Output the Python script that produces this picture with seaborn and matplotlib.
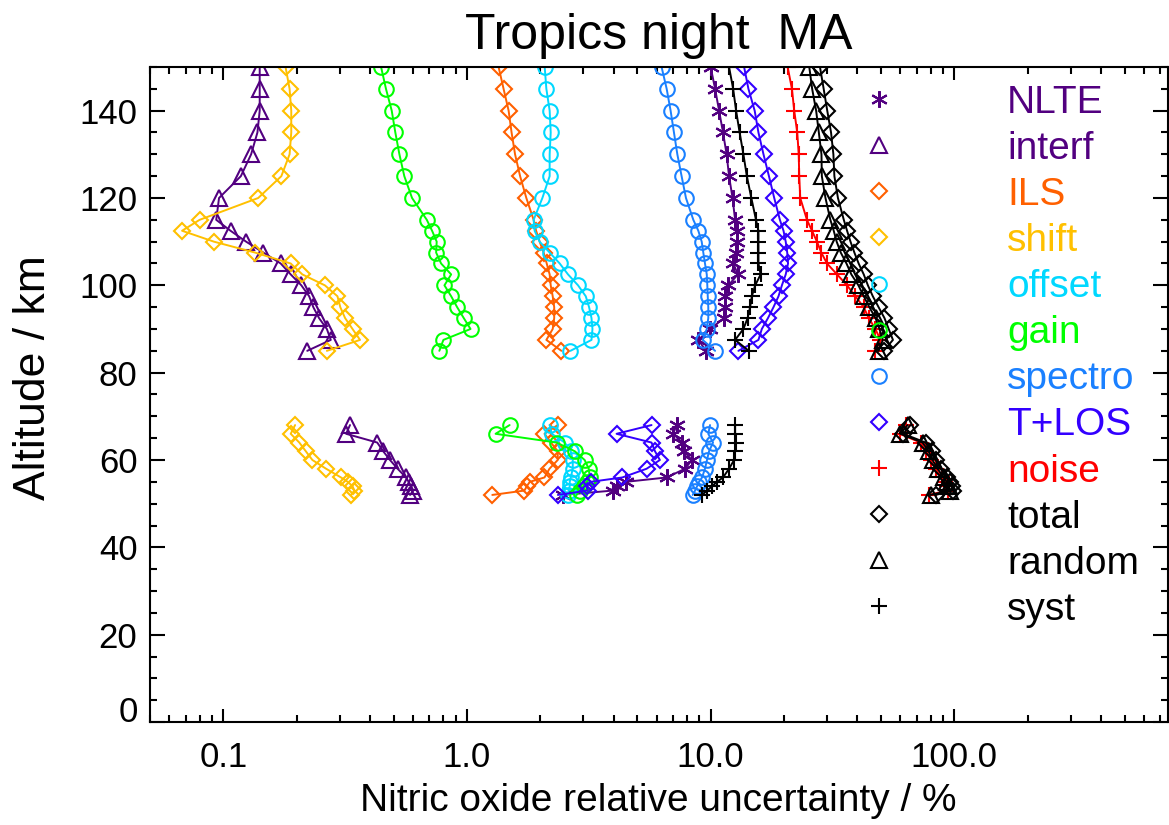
import numpy as np
import pandas as pd
import matplotlib
matplotlib.use("Agg")
import matplotlib.pyplot as plt
from matplotlib.lines import Line2D
from matplotlib.ticker import FixedLocator, FixedFormatter, MultipleLocator, LogLocator, NullFormatter
import seaborn as sns

# Altitude grids (km) of the two retrieved height ranges
alt_upper = [150, 145, 140, 135, 130, 125, 120, 115, 112.5, 110, 107.5, 105,
             102.5, 100, 97.5, 95, 92.5, 90, 87.5, 85]
alt_lower = [68, 66, 64, 62, 60, 58, 56, 55, 54, 53, 52]

# Relative uncertainty (%) per error source
nlte_upper = [10.0, 10.43, 10.83, 11.24, 11.63, 11.90, 12.30, 12.60, 12.88, 12.80,
              12.72, 12.40, 12.93, 11.83, 11.46, 11.46, 11.36, 9.94, 8.90, 9.58]
nlte_lower = [7.25, 7.02, 7.63, 7.77, 8.38, 7.85, 6.60, 4.49, 4.12, 3.97, 2.47]

interf_upper = [0.141, 0.141, 0.141, 0.138, 0.130, 0.118, 0.096, 0.0935, 0.107, 0.124,
                0.146, 0.172, 0.189, 0.209, 0.225, 0.234, 0.247, 0.266, 0.276, 0.221]
interf_lower = [0.331, 0.319, 0.428, 0.453, 0.483, 0.519, 0.562, 0.576, 0.590, 0.602, 0.584]

ils_upper = [1.348, 1.413, 1.482, 1.524, 1.575, 1.652, 1.752, 1.877, 1.922, 1.987,
             2.064, 2.124, 2.184, 2.206, 2.248, 2.280, 2.280, 2.248, 2.117, 2.441]
ils_lower = [2.357, 2.08, 2.21, 2.357, 2.357, 2.18, 2.08, 1.81, 1.76, 1.72, 1.27]

shift_upper = [0.180, 0.187, 0.190, 0.190, 0.187, 0.173, 0.139, 0.0799, 0.0677, 0.0915,
               0.135, 0.189, 0.211, 0.261, 0.294, 0.302, 0.316, 0.339, 0.364, 0.266]
shift_lower = [0.197, 0.189, 0.205, 0.218, 0.232, 0.264, 0.304, 0.324, 0.339, 0.345, 0.334]

offset_upper = [2.084, 2.117, 2.184, 2.206, 2.184, 2.184, 2.039, 1.877, 1.895, 1.987,
                2.184, 2.402, 2.598, 2.856, 3.072, 3.170, 3.243, 3.273, 3.243, 2.658]
offset_lower = [2.184, 2.227, 2.518, 2.666, 2.717, 2.717, 2.666, 2.64, 2.64, 2.615, 2.59]

gain_upper = [0.444, 0.465, 0.491, 0.508, 0.528, 0.553, 0.595, 0.684, 0.719, 0.751,
              0.747, 0.783, 0.861, 0.808, 0.861, 0.911, 0.970, 1.034, 0.800, 0.770]
gain_lower = [1.496, 1.31, 2.33, 2.77, 3.04, 3.16, 3.19, 3.10, 3.01, 2.90, 2.82]

spectro_upper = [6.29, 6.60, 6.85, 7.07, 7.30, 7.60, 7.92, 8.49, 8.90, 9.19,
                 9.33, 9.48, 9.64, 9.69, 9.73, 9.78, 9.78, 9.64, 9.28, 10.43]
spectro_lower = [9.94, 9.78, 10.23, 9.85, 9.66, 9.48, 9.22, 8.96, 8.80, 8.63, 8.44]

tlos_upper = [13.72, 14.29, 15.16, 15.71, 16.48, 17.35, 18.24, 19.24, 19.91, 20.33,
              20.62, 20.78, 20.33, 19.61, 18.99, 18.11, 17.19, 16.22, 15.71, 13.00]
tlos_lower = [5.72, 4.11, 5.72, 5.91, 6.19, 5.46, 4.34, 3.22, 3.10, 3.13, 2.36]

noise_upper = [20.7, 21.56, 22.03, 22.67, 22.99, 23.10, 23.32, 24.85, 26.06, 27.32,
               28.45, 30.04, 33.02, 36.30, 39.27, 42.48, 44.55, 47.45, 49.77, 47.45]
noise_lower = [63.1, 59.6, 72.8, 76.9, 79.9, 83.8, 88.7, 91.3, 93.0, 93.8, 78.4]

total_upper = [28.1, 29.1, 30.1, 31.2, 31.9, 32.2, 33.3, 35.2, 36.3, 37.5,
               38.9, 40.5, 42.5, 44.2, 46.3, 48.9, 51.7, 53.8, 56.0, 51.3]
total_lower = [66.1, 61.8, 76.2, 80.7, 83.8, 87.9, 93.0, 95.7, 97.5, 98.4, 83.8]

random_upper = [25.4, 26.1, 27.1, 27.8, 28.5, 28.6, 29.6, 31.0, 32.0, 32.9,
                34.2, 36.1, 37.8, 40.4, 42.5, 44.8, 47.5, 49.3, 50.9, 48.9]
random_lower = [64.3, 60.1, 74.1, 78.4, 81.4, 85.4, 90.4, 93.0, 94.8, 95.7, 79.9]

syst_upper = [11.90, 12.37, 12.72, 13.15, 13.63, 14.08, 14.69, 15.35, 15.71, 15.71,
              15.71, 15.71, 16.04, 15.23, 14.76, 14.52, 14.18, 13.63, 12.60, 14.35]
syst_lower = [12.60, 12.60, 12.72, 12.60, 12.48, 11.90, 11.24, 10.62, 10.13, 9.67, 9.22]

labels = ["NLTE", "interf", "ILS", "shift", "offset", "gain", "spectro",
          "T+LOS", "noise", "total", "random", "syst"]
colors = ["#520080", "#520080", "#ff6000", "#ffc000", "#00d8ff", "#00ff00",
          "#1a80ff", "#3300ff", "#ff0000", "#000000", "#000000", "#000000"]
asterisk = (6, 2, 0)
markers = [asterisk, "^", "D", "D", "o", "o", "o", "D", "+", "D", "^", "+"]
msizes = [12, 12, 8.6, 8.6, 10.5, 10.5, 10.5, 8.6, 12, 8.6, 12, 12]

uppers = [nlte_upper, interf_upper, ils_upper, shift_upper, offset_upper, gain_upper,
          spectro_upper, tlos_upper, noise_upper, total_upper, random_upper, syst_upper]
lowers = [nlte_lower, interf_lower, ils_lower, shift_lower, offset_lower, gain_lower,
          spectro_lower, tlos_lower, noise_lower, total_lower, random_lower, syst_lower]

sns.set_style("ticks")
plt.rcParams["font.family"] = ["Liberation Sans", "DejaVu Sans"]
plt.rcParams.update({"text.color": "black", "axes.labelcolor": "black",
                     "xtick.color": "black", "ytick.color": "black",
                     "axes.edgecolor": "black"})

fig = plt.figure(figsize=(11.69, 8.25), dpi=100)
ax = fig.add_axes([150 / 1169, 1 - 722 / 825, (1167.5 - 150) / 1169, (722 - 67) / 825])

for lab, col, mk, ms, up, lo in zip(labels, colors, markers, msizes, uppers, lowers):
    df = pd.DataFrame({
        "value": list(up) + list(lo),
        "alt": alt_upper + alt_lower,
        "segment": ["upper"] * len(up) + ["lower"] * len(lo),
    })
    sns.lineplot(data=df, x="value", y="alt", units="segment", estimator=None,
                 sort=False, color=col, linewidth=1.4, marker=mk, markersize=ms,
                 markerfacecolor="none", markeredgecolor=col, markeredgewidth=1.5,
                 ax=ax, legend=False)

ax.set_xscale("log")
ax.set_xlim(0.05, 750)
ax.set_ylim(0, 150)

ax.xaxis.set_major_locator(FixedLocator([0.1, 1, 10, 100]))
ax.xaxis.set_major_formatter(FixedFormatter(["0.1", "1.0", "10.0", "100.0"]))
ax.xaxis.set_minor_locator(LogLocator(base=10, subs=np.arange(2, 10)))
ax.xaxis.set_minor_formatter(NullFormatter())
ax.yaxis.set_major_locator(MultipleLocator(20))
ax.yaxis.set_minor_locator(MultipleLocator(5))

ax.tick_params(which="both", direction="in", top=True, right=True, width=1.5,
               colors="black", labelsize=25)
ax.tick_params(axis="y", which="major", length=10.5, pad=9)
ax.tick_params(axis="y", which="minor", length=5)
ax.tick_params(axis="x", which="major", length=9.5, pad=14)
ax.tick_params(axis="x", which="minor", length=5)
for sp in ax.spines.values():
    sp.set_linewidth(1.5)
    sp.set_color("black")

# the bottom altitude label sits on the x axis line instead of centred on it
fig.canvas.draw()
for t in ax.get_yticklabels():
    if t.get_text() == "0":
        t.set_verticalalignment("baseline")

ax.set_xlabel("Nitric oxide relative uncertainty / %", fontsize=28, labelpad=6, color="black")
ax.set_ylabel("Altitude / km", fontsize=32, color="black")
ax.yaxis.set_label_coords(-0.094, 0.525)
ax.set_title("Tropics night  MA", fontsize=36, pad=13, color="black")

handles = [Line2D([], [], linestyle="none", marker=mk, markersize=ms,
                  markerfacecolor="none", markeredgecolor=col, markeredgewidth=1.5)
           for col, mk, ms in zip(colors, markers, msizes)]
leg = ax.legend(handles, labels, loc="upper left", bbox_to_anchor=(0.697, 0.973),
                frameon=False, fontsize=28, handlelength=1.0, handletextpad=2.8,
                labelspacing=0.26, borderpad=0, borderaxespad=0, labelcolor=colors)

fig.savefig("out.png", dpi=100)
